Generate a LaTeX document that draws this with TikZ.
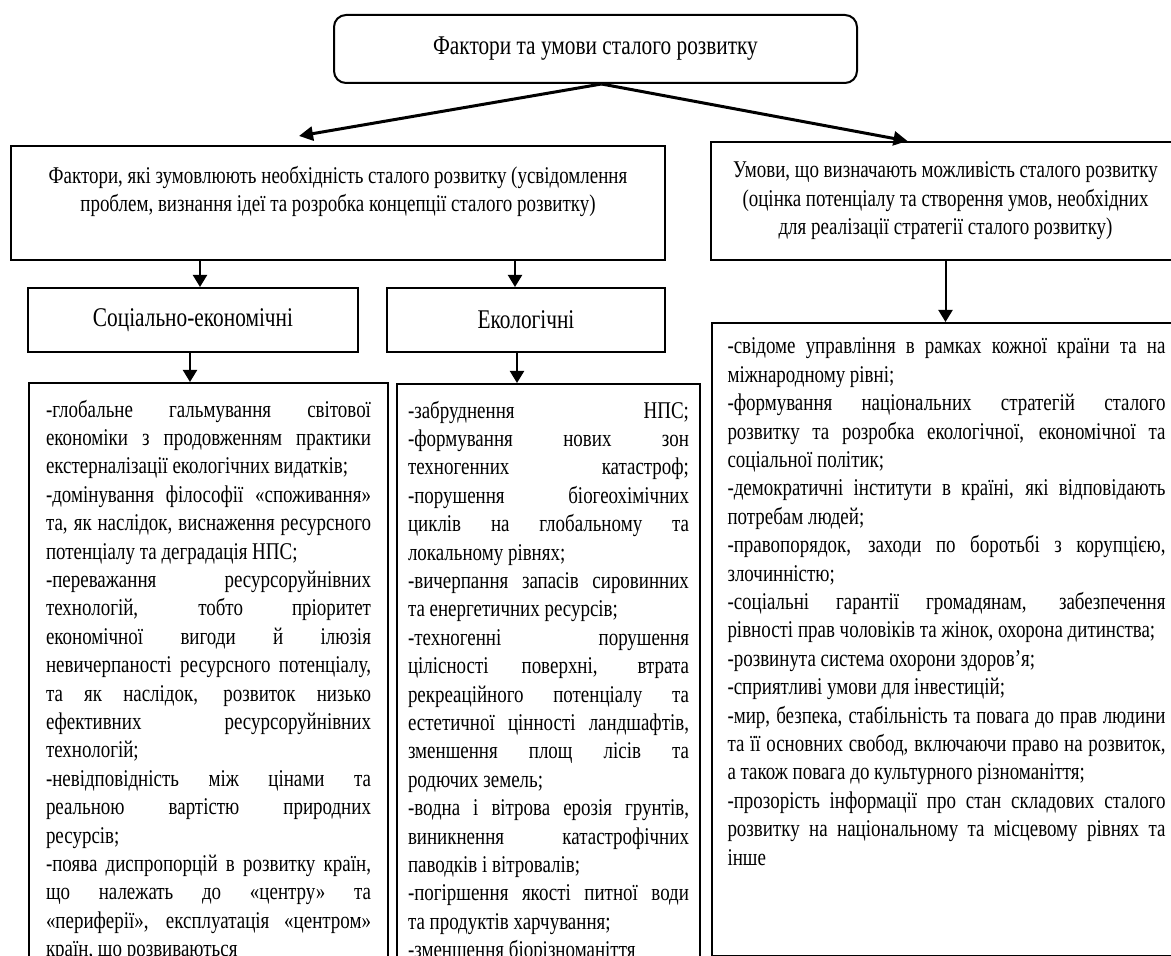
\documentclass[tikz,border=0pt]{standalone}
\usepackage{fontspec}
\setmainfont{Liberation Serif}[FakeStretch=0.79]
\usetikzlibrary{arrows.meta,positioning,calc}
\tolerance=10000
\hyphenpenalty=10000
\exhyphenpenalty=10000
\tikzset{frame/.style={draw,line width=1pt,align=flush center,font=\fontsize{12}{14.2}\selectfont},head/.style={frame,font=\fontsize{13.5}{16}\selectfont},listbox/.style={draw,line width=1pt,align=justify,anchor=north west,inner ysep=8.5pt,font=\fontsize{12}{14.2}\selectfont},flow/.style={-{Triangle[length=6pt,width=7pt]},line width=1pt},bigflow/.style={-{Triangle[length=7pt,width=7pt]},line width=1.5pt}}

\begin{document}
\begin{tikzpicture}[x=0.5pt,y=-0.5pt]
\useasboundingbox (0,0) rectangle (1171,956);
\node[head,rounded corners=6pt,minimum width=261.5pt,minimum height=34pt] (main) at (595.5,49) {Фактори та умови сталого розвитку};
\node[frame,minimum width=327pt,minimum height=57pt,text width=310pt] (facts) at (338,203) {Фактори, які зумовлюють необхідність сталого розвитку (усвідомлення\\проблем, визнання ідеї та розробка концепції сталого розвитку)\\~};
\node[frame,minimum width=234.5pt,minimum height=59pt,text width=225pt] (conds) at (945.5,201) {Умови, що визначають можливість сталого розвитку\\(оцінка потенціалу та створення умов, необхідних\\для реалізації стратегії сталого розвитку)};
\node[head,minimum width=165pt,minimum height=32pt] (soc) at (193,320) {Соціально-економічні};
\node[head,minimum width=139pt,minimum height=32pt] (eco) at (526,320) {Екологічні};
% lists of factors
\node[listbox,inner xsep=8.5pt,text width=162.5pt] (socl) at (28,382) {-глобальне гальмування світової\linebreak
економіки з продовженням практики\linebreak
екстерналізації екологічних видатків;\newline
-домінування філософії «споживання»\linebreak
та, як наслідок, виснаження ресурсного\linebreak
потенціалу та деградація НПС;\newline
-переважання ресурсоруйнівних\linebreak
технологій, тобто пріоритет\linebreak
економічної вигоди й ілюзія\linebreak
невичерпаності ресурсного потенціалу,\linebreak
та як наслідок, розвиток низько\linebreak
ефективних ресурсоруйнівних\linebreak
технологій;\newline
-невідповідність між цінами та\linebreak
реальною вартістю природних\linebreak
ресурсів;\newline
-поява диспропорцій в розвитку країн,\linebreak
що належать до «центру» та\linebreak
«периферії», експлуатація «центром»\linebreak
країн, що розвиваються};
\node[listbox,inner xsep=5.5pt,text width=140.5pt] (ecol) at (396,383) {-забруднення НПС;\linebreak
-формування нових зон\linebreak
техногенних катастроф;\linebreak
-порушення біогеохімічних\linebreak
циклів на глобальному та\linebreak
локальному рівнях;\newline
-вичерпання запасів сировинних\linebreak
та енергетичних ресурсів;\newline
-техногенні порушення\linebreak
цілісності поверхні, втрата\linebreak
рекреаційного потенціалу та\linebreak
естетичної цінності ландшафтів,\linebreak
зменшення площ лісів та\linebreak
родючих земель;\newline
-водна і вітрова ерозія грунтів,\linebreak
виникнення катастрофічних\linebreak
паводків і вітровалів;\newline
-погіршення якості питної води\linebreak
та продуктів харчування;\newline
-зменшення біорізноманіття};
% list of conditions
\node[listbox,inner xsep=7.75pt,inner ysep=7.5pt,text width=219pt] (condl) at (711,322) {-свідоме управління в рамках кожної країни та на\linebreak
міжнародному рівні;\newline
-формування національних стратегій сталого\linebreak
розвитку та розробка екологічної, економічної та\linebreak
соціальної політик;\newline
-демократичні інститути в країні, які відповідають\linebreak
потребам людей;\newline
-правопорядок, заходи по боротьбі з корупцією,\linebreak
злочинністю;\newline
-соціальні гарантії громадянам, забезпечення\linebreak
рівності прав чоловіків та жінок, охорона дитинства;\newline
-розвинута система охорони здоров’я;\newline
-сприятливі умови для інвестицій;\newline
-мир, безпека, стабільність та повага до прав людини\linebreak
та її основних свобод, включаючи право на розвиток,\linebreak
а також повага до культурного різноманіття;\newline
-прозорість інформації про стан складових сталого\linebreak
розвитку на національному та місцевому рівнях та\linebreak
інше\par\vspace{23.6pt}\mbox{}};
\draw[bigflow] ([xshift=3pt]main.south) -- ([xshift=-19.5pt,yshift=4.5pt]facts.north);
\draw[bigflow] ([xshift=3pt]main.south) -- ([xshift=-19pt]conds.north);
\draw[flow] ($(facts.south -| soc.north)+(3.5pt,0)$) -- ($(soc.north)+(3.5pt,0)$);
\draw[flow] ($(facts.south -| eco.north)+(-5.5pt,0)$) -- ($(eco.north)+(-5.5pt,0)$);
\draw[flow] ($(soc.south)+(-1.5pt,0)$) -- ($(soc.south |- socl.north)+(-1.5pt,0)$);
\draw[flow] ($(eco.south)+(-4.5pt,0)$) -- ($(eco.south |- ecol.north)+(-4.5pt,0)$);
\draw[flow] (conds.south) -- (conds.south |- condl.north);
\end{tikzpicture}
\end{document}
